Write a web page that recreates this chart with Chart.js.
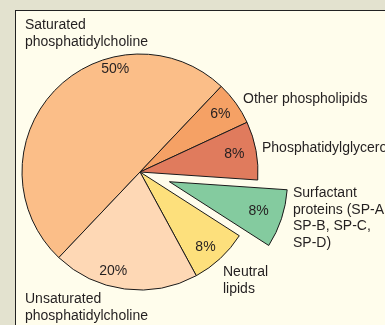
<!DOCTYPE html>
<html>
<head>
<meta charset="utf-8">
<title>Lung surfactant composition</title>
<script src="https://cdn.jsdelivr.net/npm/chart.js@4.4.1/dist/chart.umd.min.js"></script>
<style>
  html, body { margin: 0; padding: 0; }
  body { width: 385px; height: 325px; background: #e3e2cf; position: relative; overflow: hidden; }
  #panel { position: absolute; left: 15px; top: 10px; width: 420px; height: 400px;
           background: #fffdec; border-left: 1px solid #222; border-top: 1px solid #222; }
  #chart { position: absolute; left: 0; top: 0; }
</style>
</head>
<body>
<div id="panel"></div>
<canvas id="chart" width="385" height="325"></canvas>
<script>
// Surfactant composition, percent by weight
var categories = ['Saturated phosphatidylcholine', 'Other phospholipids', 'Phosphatidylglycerol',
                  'Surfactant proteins (SP-A, SP-B, SP-C, SP-D)', 'Neutral lipids', 'Unsaturated phosphatidylcholine'];
var values = [50, 6, 8, 8, 8, 20];
var nameLines = [
    ['Saturated', 'phosphatidylcholine'],
    ['Other phospholipids'],
    ['Phosphatidylglycerol'],
    ['Surfactant', 'proteins (SP-A,', 'SP-B, SP-C,', 'SP-D)'],
    ['Neutral', 'lipids'],
    ['Unsaturated', 'phosphatidylcholine']
];
var sliceColors = ['#fbbe88', '#f5a165', '#e07b5d', '#84cb9f', '#fde07c', '#fed8b5'];

// where the name text sits (left edge, first baseline)
var namePos = [[25, 29], [243, 103], [262, 152], [293, 197], [223, 276], [25, 303]];
// percent text: angle shift from slice middle (deg) and distance from centre
var pctPlace = [{shift: 33, r: 106}, {shift: 0, r: 99}, {shift: 0, r: 96},
                {shift: 0, r: 94}, {shift: 2, r: 100}, {shift: 7.6, r: 103}];
var explodeIndex = 3;
var explodeDist = 31;

var textColor = '#231f20';
var font = '14px "Liberation Sans", Arial, sans-serif';

var explodePlugin = {
    id: 'explodeSlice',
    afterDatasetsUpdate: function(chart){
        var arc = chart.getDatasetMeta(0).data[explodeIndex];
        if (!arc) return;
        var mid = (arc.startAngle + arc.endAngle) / 2;
        arc.x += Math.cos(mid) * explodeDist;
        arc.y += Math.sin(mid) * explodeDist;
    }
};

var labelPlugin = {
    id: 'sliceLabels',
    afterDatasetsDraw: function(chart){
        var ctx = chart.ctx;
        var arcs = chart.getDatasetMeta(0).data;
        ctx.save();
        ctx.font = font;
        ctx.fillStyle = textColor;

        // percentages inside slices
        ctx.textAlign = 'center';
        ctx.textBaseline = 'middle';
        arcs.forEach(function(arc, i){
            var p = pctPlace[i];
            var a = (arc.startAngle + arc.endAngle) / 2 + p.shift * Math.PI / 180;
            ctx.fillText(values[i] + '%', arc.x + Math.cos(a) * p.r, arc.y + Math.sin(a) * p.r);
        });

        // category names
        ctx.textAlign = 'left';
        ctx.textBaseline = 'alphabetic';
        nameLines.forEach(function(lines, i){
            lines.forEach(function(line, j){
                ctx.fillText(line, namePos[i][0], namePos[i][1] + j * 16.5);
            });
        });
        ctx.restore();
    }
};

var ctx = document.getElementById('chart').getContext('2d');
var pieChart = new Chart(ctx, {
    type: 'pie',
    data: {
        labels: categories,
        datasets: [{
            data: values,
            backgroundColor: sliceColors,
            borderColor: '#1a1a1a',
            borderWidth: 1,
            radius: 118
        }]
    },
    options: {
        responsive: false,
        animation: false,
        events: [],
        rotation: -136.5,
        layout: { padding: { left: 0, right: 105, top: 19, bottom: 0 } },
        plugins: {
            legend: { display: false },
            tooltip: { enabled: false }
        }
    },
    plugins: [explodePlugin, labelPlugin]
});
</script>
</body>
</html>
